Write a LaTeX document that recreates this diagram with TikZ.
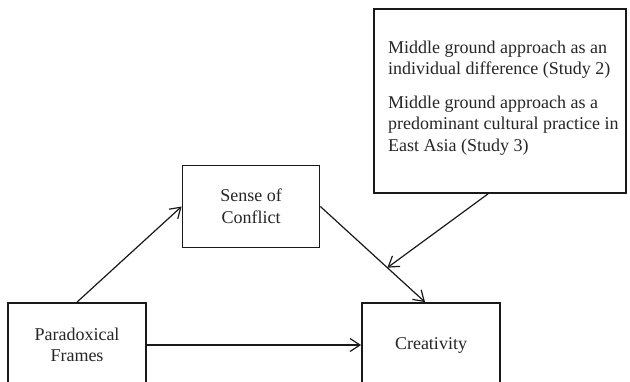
\documentclass[tikz,border=0pt]{standalone}
\usepackage{fontspec}
\setmainfont{Liberation Serif}
\usetikzlibrary{arrows.meta,calc}
\tikzset{
  box/.style={draw=black!90, line width=1.8pt, fill=white, inner sep=0pt, align=center,
    font=\fontsize{18}{21.6}\selectfont, text=black!85},
  link/.style={draw=black!90, line width=1.2pt, -{Straight Barb[length=10pt,width=13pt,line width=1.2pt]}},
}
\begin{document}
\begin{tikzpicture}[x=1pt,y=-1pt]
\useasboundingbox (0,0) rectangle (630,381);
\clip (0,0) rectangle (630,381);
\node[box, minimum width=138pt, minimum height=84pt] (para) at (77,345) {Paradoxical\\Frames};
\node[box, minimum width=138pt, minimum height=84pt] (creat) at (431,345) {Creativity};
\node[box, minimum width=137pt, minimum height=82pt] (sense) at (251,206.5) {Sense of\\Conflict};
\node[box, minimum width=252pt, minimum height=184pt] (mod) at (500,101) {};
\node[anchor=west, inner sep=0pt, align=left, text=black!85,
  font=\fontsize{18}{21.6}\selectfont] (modtext) at (388,98)
  {Middle ground approach as an\\individual difference (Study 2)\\[12pt]
   Middle ground approach as a\\predominant cultural practice in\\East Asia (Study 3)};
\coordinate (cend) at ($(creat.north)+(-6,0)$);
\coordinate (hit) at ($(sense.east)!0.64!(cend)$);
\coordinate (mstart) at ($(mod.south)+(-12,0)$);
\draw[link] (para.north) -- (sense.west);
\draw[link] (sense.east) -- (cend);
\draw[link] (para.east) -- (creat.west);
\draw[link] (mstart) -- (hit);
\end{tikzpicture}
\end{document}
